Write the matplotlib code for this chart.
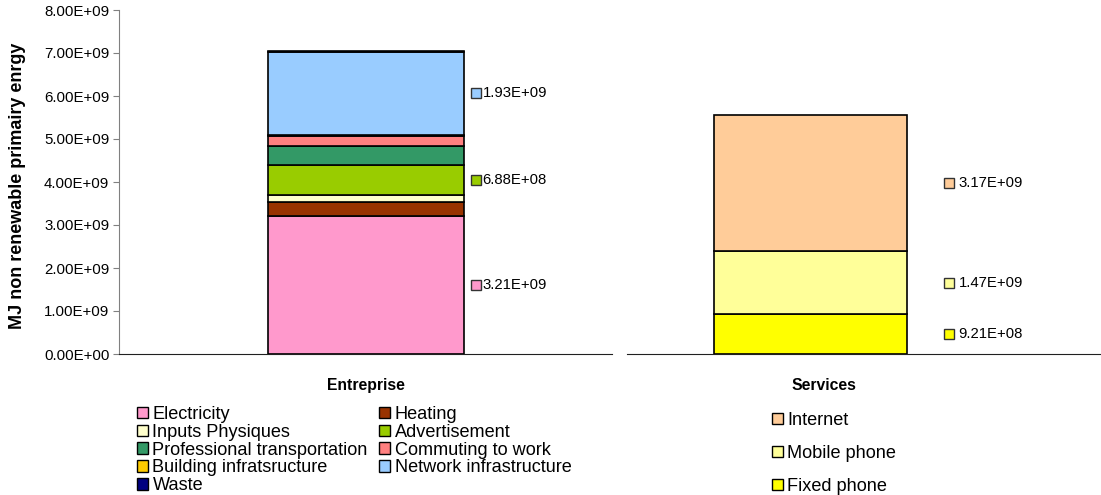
import numpy as np
import matplotlib.pyplot as plt
from matplotlib.patches import Patch
from matplotlib.ticker import FuncFormatter

plt.rcParams['font.family'] = ['Liberation Sans', 'DejaVu Sans']

# Entreprise breakdown (MJ), stacked bottom to top
ent_names = ['Electricity', 'Heating', 'Inputs Physiques', 'Advertisement',
             'Professional transportation', 'Commuting to work',
             'Building infratsructure', 'Network infrastructure', 'Waste']
ent_values = [3.21e9, 3.3e8, 1.6e8, 6.88e8, 4.4e8, 2.4e8, 3.0e7, 1.93e9, 1.0e7]
ent_colors = ['#FF99CC', '#993300', '#FFFFCC', '#99CC00', '#339966',
              '#FF8080', '#FFCC00', '#99CCFF', '#000080']
ent_labelled = ['Electricity', 'Advertisement', 'Network infrastructure']

# Services breakdown (MJ)
srv_names = ['Fixed phone', 'Mobile phone', 'Internet']
srv_values = [9.21e8, 1.47e9, 3.17e9]
srv_colors = ['#FFFF00', '#FFFF99', '#FFCC99']

yticks = np.arange(0, 8.01e9, 1e9)

fig = plt.figure(figsize=(11.01, 4.95), dpi=100)
ax1 = fig.add_axes([119 / 1101, 1 - 354 / 495, (612 - 119) / 1101, 344 / 495])
ax2 = fig.add_axes([627 / 1101, 1 - 354 / 495, (1101 - 627) / 1101, 344 / 495])

sci = FuncFormatter(lambda v, p: f"{v:.2E}")


def stack(ax, values, colors, width, labelled, names, mark_dx, text_dx):
    bottom = 0.0
    for name, v, c in zip(names, values, colors):
        ax.bar(0, v, width=width, bottom=bottom, color=c,
               edgecolor='black', linewidth=1.2, label=name)
        if name in labelled:
            mid = bottom + v / 2
            ax.plot(mark_dx, mid, marker='s', ms=7, mfc=c, mec='#333333',
                    mew=1.0, clip_on=False)
            ax.text(text_dx, mid, f"{v:.2E}", fontsize=10.7,
                    va='center', ha='left')
        bottom += v


stack(ax1, ent_values, ent_colors, 196 / 493, ent_labelled, ent_names,
      0.5 * 196 / 493 + 12 / 493, 0.5 * 196 / 493 + 19 / 493)
stack(ax2, srv_values, srv_colors, 193 / 474, srv_names, srv_names,
      138 / 474, 148 / 474)

ax1.set_xlim(-0.5, 0.5)
ax2.set_xlim(-183.5 / 474, 290.5 / 474)
for ax in (ax1, ax2):
    ax.set_ylim(0, 8e9)
    ax.spines['top'].set_visible(False)
    ax.spines['right'].set_visible(False)
    ax.spines['bottom'].set_color('#202020')

ax1.set_yticks(yticks)
ax1.yaxis.set_major_formatter(sci)
ax1.tick_params(axis='y', direction='out', length=4, color='#808080',
                labelsize=10.8, pad=3)
ax1.spines['left'].set_color('#808080')
ax1.set_ylabel('MJ non renewable primairy enrgy', fontsize=13.0,
               fontweight='bold')
ax1.yaxis.set_label_coords(-0.189, 0.49)

ax2.spines['left'].set_visible(False)
ax2.set_yticks([])

ax1.set_xticks([0])
ax1.set_xticklabels(['Entreprise'], fontsize=11.3, fontweight='bold')
ax2.set_xticks([0.029])
ax2.set_xticklabels(['Services'], fontsize=11.3, fontweight='bold')
for ax in (ax1, ax2):
    ax.tick_params(axis='x', length=0, pad=17)

# legends: square swatches with black edges
ent_h = [Patch(facecolor=c, edgecolor='black', linewidth=1.0) for c in ent_colors]
order = [0, 2, 4, 6, 8, 1, 3, 5, 7]
fig.legend([ent_h[i] for i in order], [ent_names[i] for i in order],
           ncol=2, loc='upper left', bbox_to_anchor=(137 / 1101, 1 - 406 / 495),
           frameon=False, fontsize=13.1, handlelength=0.6, handleheight=0.6,
           handletextpad=0.25, labelspacing=0.045, columnspacing=0.62,
           borderpad=0, borderaxespad=0)

srv_h = [Patch(facecolor=c, edgecolor='black', linewidth=1.0) for c in srv_colors]
fig.legend(srv_h[::-1], srv_names[::-1], loc='upper left',
           bbox_to_anchor=(772 / 1101, 1 - 412 / 495), frameon=False,
           fontsize=13.1, handlelength=0.6, handleheight=0.6,
           handletextpad=0.25, labelspacing=0.88, borderpad=0, borderaxespad=0)

fig.savefig('out.png', dpi=100)
